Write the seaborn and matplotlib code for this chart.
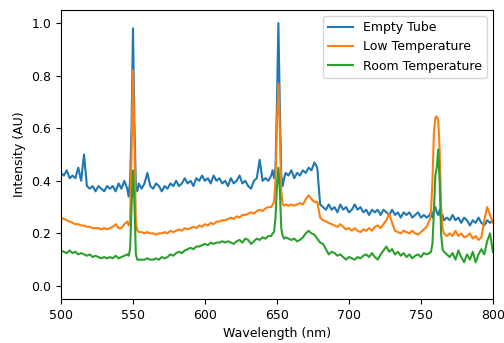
import pandas as pd
import seaborn as sns
import matplotlib.pyplot as plt

# wavelength grid (finer around the emission lines)
wavelength = (list(range(500, 546, 2)) + list(range(546, 555)) + list(range(556, 646, 2))
              + list(range(646, 657)) + list(range(658, 756, 2)) + list(range(756, 767))
              + list(range(768, 801, 2)))

empty_tube = [
    # 500-544
    0.43, 0.42, 0.44, 0.41, 0.42, 0.41, 0.45, 0.40, 0.50, 0.38, 0.37, 0.38,
    0.36, 0.38, 0.37, 0.36, 0.38, 0.37, 0.38, 0.36, 0.39, 0.37, 0.40,
    # 546-554
    0.37, 0.34, 0.40, 0.60, 0.98, 0.62, 0.38, 0.36, 0.39,
    # 556-644
    0.37, 0.39, 0.43, 0.38, 0.37, 0.39, 0.38, 0.36, 0.38, 0.37, 0.39, 0.38,
    0.40, 0.38, 0.39, 0.41, 0.39, 0.40, 0.38, 0.41, 0.40, 0.42, 0.40, 0.41,
    0.39, 0.42, 0.40, 0.41, 0.39, 0.40, 0.38, 0.41, 0.39, 0.40, 0.42, 0.39,
    0.40, 0.38, 0.37, 0.40, 0.41, 0.48, 0.40, 0.41, 0.40,
    # 646-656
    0.42, 0.44, 0.41, 0.45, 0.70, 1.00, 0.68, 0.42, 0.38, 0.41, 0.43,
    # 658-754
    0.42, 0.44, 0.41, 0.43, 0.42, 0.44, 0.43, 0.45, 0.44, 0.47, 0.45, 0.31,
    0.30, 0.29, 0.31, 0.29, 0.30, 0.28, 0.31, 0.29, 0.30, 0.28, 0.29, 0.31,
    0.29, 0.30, 0.28, 0.29, 0.27, 0.29, 0.28, 0.29, 0.27, 0.29, 0.28, 0.27,
    0.29, 0.27, 0.28, 0.26, 0.28, 0.27, 0.28, 0.26, 0.27, 0.28, 0.26, 0.27,
    0.26,
    # 756-766
    0.27, 0.28, 0.26, 0.29, 0.30, 0.28, 0.27, 0.29, 0.26, 0.27, 0.25,
    # 768-800
    0.26, 0.25, 0.27, 0.25, 0.26, 0.24, 0.26, 0.25, 0.23, 0.25, 0.24, 0.26,
    0.24, 0.23, 0.25, 0.24, 0.25,
]

low_temp = [
    # 500-544
    0.26, 0.255, 0.25, 0.245, 0.24, 0.235, 0.235, 0.23, 0.23, 0.225, 0.225, 0.22,
    0.22, 0.22, 0.215, 0.22, 0.215, 0.22, 0.225, 0.235, 0.22, 0.22, 0.235,
    # 546-554
    0.245, 0.23, 0.25, 0.50, 0.82, 0.55, 0.24, 0.21, 0.205,
    # 556-644
    0.205, 0.20, 0.205, 0.20, 0.20, 0.195, 0.20, 0.20, 0.205, 0.20, 0.21, 0.205,
    0.21, 0.215, 0.21, 0.22, 0.215, 0.22, 0.225, 0.22, 0.23, 0.225, 0.235, 0.23,
    0.24, 0.235, 0.245, 0.245, 0.25, 0.25, 0.255, 0.26, 0.255, 0.265, 0.26, 0.27,
    0.27, 0.275, 0.28, 0.275, 0.285, 0.29, 0.285, 0.295, 0.30,
    # 646-656
    0.30, 0.31, 0.32, 0.40, 0.62, 0.77, 0.60, 0.36, 0.31, 0.305, 0.31,
    # 658-754
    0.305, 0.31, 0.305, 0.31, 0.315, 0.31, 0.33, 0.345, 0.33, 0.32, 0.32, 0.26,
    0.25, 0.245, 0.24, 0.235, 0.23, 0.225, 0.235, 0.225, 0.215, 0.22, 0.21, 0.22,
    0.21, 0.205, 0.215, 0.21, 0.22, 0.21, 0.225, 0.23, 0.22, 0.235, 0.25, 0.275,
    0.24, 0.21, 0.205, 0.20, 0.21, 0.205, 0.20, 0.21, 0.20, 0.195, 0.205, 0.215,
    0.225,
    # 756-766
    0.25, 0.28, 0.40, 0.58, 0.64, 0.645, 0.63, 0.52, 0.30, 0.22, 0.20,
    # 768-800
    0.19, 0.20, 0.19, 0.21, 0.19, 0.20, 0.185, 0.19, 0.20, 0.18, 0.19, 0.175,
    0.185, 0.25, 0.30, 0.27, 0.24,
]

room_temp = [
    # 500-544
    0.135, 0.13, 0.125, 0.135, 0.125, 0.13, 0.12, 0.125, 0.12, 0.115, 0.12, 0.11,
    0.115, 0.11, 0.105, 0.11, 0.105, 0.11, 0.105, 0.115, 0.105, 0.11, 0.115,
    # 546-554
    0.12, 0.115, 0.14, 0.30, 0.44, 0.32, 0.12, 0.10, 0.10,
    # 556-644
    0.10, 0.10, 0.105, 0.10, 0.10, 0.105, 0.10, 0.11, 0.105, 0.11, 0.12, 0.115,
    0.125, 0.13, 0.125, 0.135, 0.14, 0.145, 0.14, 0.15, 0.15, 0.155, 0.16, 0.155,
    0.165, 0.16, 0.165, 0.165, 0.17, 0.165, 0.17, 0.165, 0.16, 0.17, 0.175, 0.165,
    0.18, 0.175, 0.16, 0.17, 0.18, 0.175, 0.185, 0.18, 0.19,
    # 646-656
    0.19, 0.20, 0.205, 0.26, 0.38, 0.45, 0.36, 0.22, 0.19, 0.18, 0.185,
    # 658-754
    0.18, 0.175, 0.18, 0.17, 0.175, 0.185, 0.20, 0.21, 0.20, 0.195, 0.18, 0.165,
    0.16, 0.14, 0.12, 0.13, 0.125, 0.115, 0.12, 0.11, 0.10, 0.11, 0.105, 0.10,
    0.11, 0.105, 0.115, 0.12, 0.11, 0.125, 0.11, 0.10, 0.12, 0.135, 0.15, 0.13,
    0.14, 0.12, 0.13, 0.115, 0.125, 0.11, 0.12, 0.105, 0.115, 0.12, 0.11, 0.125,
    0.12,
    # 756-766
    0.125, 0.13, 0.16, 0.28, 0.42, 0.45, 0.52, 0.40, 0.20, 0.14, 0.13,
    # 768-800
    0.12, 0.11, 0.125, 0.10, 0.135, 0.11, 0.09, 0.12, 0.10, 0.13, 0.09, 0.12,
    0.14, 0.12, 0.17, 0.20, 0.13,
]

labels = ['Empty Tube', 'Low Temperature', 'Room Temperature']

plt.rcParams['font.size'] = 9

fig, ax = plt.subplots(figsize=(5.04, 3.43), dpi=100)
fig.subplots_adjust(left=0.121, right=0.978, top=0.971, bottom=0.128)

for name, vals in zip(labels, [empty_tube, low_temp, room_temp]):
    sns.lineplot(x=wavelength, y=vals, label=name, ax=ax, linewidth=1.5)

ax.set_xlim(500, 800)
ax.set_ylim(-0.05, 1.05)
ax.set_xlabel('Wavelength (nm)')
ax.set_ylabel('Intensity (AU)')
ax.legend(loc='upper right')

fig.savefig('out.png')
